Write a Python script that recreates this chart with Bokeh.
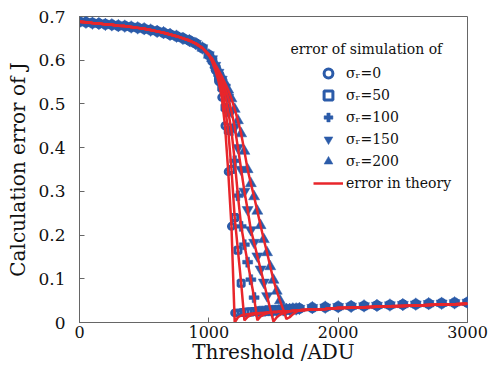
from bokeh.plotting import figure
from bokeh.models import FixedTicker, Legend, LegendItem, Label
from bokeh.embed import file_html
from bokeh.resources import INLINE

# ---------------- data ----------------
thr_head = [0, 50, 100, 150, 200, 250, 300, 350, 400, 450, 500, 550, 600, 650, 700,
            750, 800, 850, 900, 950, 1000]
err_head = [0.688, 0.687, 0.685, 0.684, 0.682, 0.681, 0.679, 0.678, 0.676, 0.674, 0.672,
            0.669, 0.666, 0.663, 0.659, 0.655, 0.650, 0.645, 0.638, 0.628, 0.612]

thr_mid = [1025, 1050, 1075, 1100, 1125, 1150, 1175, 1200, 1225, 1250, 1275, 1300, 1325, 1350,
           1375, 1400, 1425, 1450, 1475, 1500, 1525, 1550, 1575, 1600, 1625, 1650, 1675]

# theory curves in the transition region
th_0 = [0.597, 0.577, 0.552, 0.515, 0.450, 0.345, 0.220, 0.000, 0.012, 0.016, 0.018, 0.019, 0.020, 0.021,
        0.021, 0.022, 0.022, 0.023, 0.023, 0.024, 0.024, 0.025, 0.025, 0.026, 0.026, 0.027, 0.027]
th_50 = [0.600, 0.582, 0.561, 0.537, 0.492, 0.439, 0.350, 0.240, 0.165, 0.090, 0.005, 0.013, 0.017, 0.019,
         0.020, 0.021, 0.022, 0.023, 0.023, 0.024, 0.024, 0.025, 0.025, 0.026, 0.026, 0.027, 0.027]
th_100 = [0.602, 0.585, 0.567, 0.547, 0.523, 0.482, 0.439, 0.370, 0.290, 0.220, 0.178, 0.138, 0.098, 0.057,
          0.005, 0.014, 0.018, 0.021, 0.023, 0.024, 0.024, 0.025, 0.025, 0.026, 0.026, 0.027, 0.027]
th_150 = [0.603, 0.588, 0.572, 0.556, 0.538, 0.515, 0.483, 0.447, 0.400, 0.350, 0.300, 0.258, 0.212, 0.183,
          0.152, 0.122, 0.092, 0.061, 0.031, 0.002, 0.012, 0.018, 0.021, 0.023, 0.025, 0.026, 0.027]
th_200 = [0.604, 0.590, 0.577, 0.563, 0.548, 0.532, 0.512, 0.488, 0.462, 0.432, 0.392, 0.350, 0.318, 0.288,
          0.255, 0.222, 0.190, 0.160, 0.128, 0.097, 0.072, 0.050, 0.030, 0.008, 0.012, 0.019, 0.024]

# simulated errors in the transition region
sm_0 = [0.597, 0.577, 0.552, 0.515, 0.450, 0.345, 0.220, 0.022, 0.022, 0.023, 0.023, 0.024, 0.024, 0.025,
        0.025, 0.026, 0.026, 0.027, 0.027, 0.028, 0.028, 0.029, 0.029, 0.030, 0.030, 0.031, 0.031]
sm_50 = [0.600, 0.582, 0.561, 0.537, 0.492, 0.439, 0.350, 0.240, 0.165, 0.090, 0.023, 0.024, 0.024, 0.025,
         0.025, 0.026, 0.026, 0.027, 0.027, 0.028, 0.028, 0.029, 0.029, 0.030, 0.030, 0.031, 0.031]
sm_100 = [0.602, 0.585, 0.567, 0.547, 0.523, 0.482, 0.439, 0.370, 0.290, 0.220, 0.178, 0.138, 0.098, 0.057,
          0.025, 0.026, 0.026, 0.027, 0.027, 0.028, 0.028, 0.029, 0.029, 0.030, 0.030, 0.031, 0.031]
sm_150 = [0.603, 0.588, 0.572, 0.556, 0.538, 0.515, 0.483, 0.447, 0.400, 0.350, 0.300, 0.258, 0.212, 0.183,
          0.152, 0.122, 0.092, 0.061, 0.031, 0.028, 0.028, 0.029, 0.029, 0.030, 0.030, 0.031, 0.031]
sm_200 = [0.604, 0.590, 0.577, 0.563, 0.548, 0.532, 0.512, 0.488, 0.462, 0.432, 0.392, 0.350, 0.318, 0.288,
          0.255, 0.222, 0.190, 0.160, 0.128, 0.097, 0.072, 0.050, 0.030, 0.030, 0.030, 0.031, 0.031]

thr_tail = [1700, 1800, 1900, 2000, 2100, 2200, 2300, 2400, 2500, 2600, 2700, 2800, 2900, 3000]
th_tail = [0.028, 0.030, 0.031, 0.033, 0.034, 0.035, 0.036, 0.037, 0.038, 0.039, 0.040, 0.041, 0.042, 0.043]
sm_tail = [0.032, 0.034, 0.035, 0.036, 0.037, 0.038, 0.039, 0.040, 0.041, 0.042, 0.043, 0.044, 0.045, 0.046]

sigma_labels = ["\u03c3\u1d63=0", "\u03c3\u1d63=50", "\u03c3\u1d63=100", "\u03c3\u1d63=150", "\u03c3\u1d63=200"]
x_ticks = [0, 1000, 2000, 3000]
y_ticks = [0, 0.1, 0.2, 0.3, 0.4, 0.5, 0.6, 0.7]

BLUE = "#2B5BA9"
RED = "#E8262B"
FONT = "DejaVu Serif"

# ---------------- figure ----------------
p = figure(width=488, height=366, x_range=(0, 3000), y_range=(0, 0.7),
           output_backend="svg", toolbar_location=None,
           min_border_left=79, min_border_right=21, min_border_top=16, min_border_bottom=0)
p.background_fill_color = "white"
p.border_fill_color = "white"
p.outline_line_color = "#666666"
p.outline_line_width = 1
p.xgrid.visible = False
p.ygrid.visible = False

for ax in (p.xaxis, p.yaxis):
    ax.major_tick_in = 5
    ax.major_tick_out = 0
    ax.minor_tick_line_color = None
    ax.axis_line_color = "#666666"
    ax.major_tick_line_color = "#666666"
    ax.major_label_text_font = FONT
    ax.major_label_text_color = "#111111"
    ax.axis_label_text_font = FONT
    ax.axis_label_text_font_size = "20px"
    ax.axis_label_text_font_style = "normal"
    ax.axis_label_text_color = "#111111"

p.xaxis.major_label_text_font_size = "16px"
p.yaxis.major_label_text_font_size = "17px"
p.xaxis.ticker = FixedTicker(ticks=x_ticks)
p.yaxis.ticker = FixedTicker(ticks=y_ticks)
p.yaxis.major_label_overrides = {0: "0"}
p.xaxis.axis_label = "Threshold /ADU"
p.yaxis.axis_label = "Calculation error of J"
p.xaxis.major_label_standoff = 3
p.xaxis.axis_label_standoff = -1
p.yaxis.major_label_standoff = 14
p.yaxis.axis_label_standoff = 5

sims = [sm_0, sm_50, sm_100, sm_150, sm_200]
theos = [th_0, th_50, th_100, th_150, th_200]

marker_specs = [
    dict(marker="circle", size=6, line_width=3, fill_color="white", line_color=BLUE),
    dict(marker="square", size=6, line_width=3, fill_color="white", line_color=BLUE),
    dict(marker="plus", size=10, line_width=0.5, fill_color=BLUE, line_color=BLUE),
    dict(marker="inverted_triangle", size=11, line_width=0.5, fill_color=BLUE, line_color=BLUE),
    dict(marker="triangle", size=11, line_width=0.5, fill_color=BLUE, line_color=BLUE),
]

sim_renderers = []
for sm, spec in zip(sims, marker_specs):
    xs = thr_head + thr_mid + thr_tail
    ys = err_head + sm + sm_tail
    r = p.scatter(xs, ys, **spec)
    sim_renderers.append(r)

line_renderers = []
for th in theos:
    xs = thr_head + thr_mid + thr_tail
    ys = err_head + th + th_tail
    r = p.line(xs, ys, line_color=RED, line_width=2.5)
    line_renderers.append(r)

items = [LegendItem(label=lab, renderers=[r]) for lab, r in zip(sigma_labels, sim_renderers)]
items.append(LegendItem(label="error in theory", renderers=[line_renderers[0]]))

legend = Legend(items=items, location=(234, 128), orientation="vertical",
                glyph_width=30, glyph_height=22, label_height=22, spacing=0,
                padding=0, margin=0, label_standoff=3,
                label_text_font=FONT, label_text_font_size="14px", label_text_color="#111111",
                border_line_color=None, background_fill_alpha=0)
p.add_layout(legend, "center")

title = Label(x=1632, y=0.625, text="error of simulation of", text_font=FONT,
              text_font_size="14px", text_baseline="middle", text_align="left",
              text_color="#111111")
p.add_layout(title)

open("out.html", "w").write(file_html(p, INLINE))
